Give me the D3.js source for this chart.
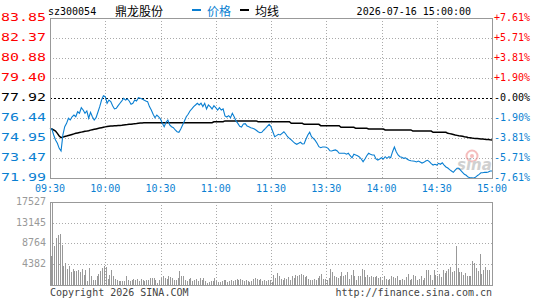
<!DOCTYPE html>
<html>
<head>
<meta charset="utf-8">
<script src="https://cdn.jsdelivr.net/npm/d3@7"></script>
<style>
  body { margin: 0; background: #fff; }
  text { font-family: "DejaVu Sans Mono", monospace; font-size: 10px; }
  .cjk { font-family: "Noto Sans CJK SC", sans-serif; font-size: 12px; }
</style>
</head>
<body>
<div id="chart"></div>
<script>
const stockCode = 'sz300054'
const stockName = '鼎龙股份'
const stamp = '2026-07-16 15:00:00'
const prevClose = 77.92
const timeLabels = ['09:30','10:00','10:30','11:00','11:30','13:30','14:00','14:30','15:00']
const timeMinutes = [0,30,60,90,120,150,180,210,240]
const priceTicks = [83.85,82.37,80.88,79.40,77.92,76.44,74.95,73.47,71.99]
const pctLabels = ['+7.61%','+5.71%','+3.81%','+1.90%','-0.00%','-1.90%','-3.81%','-5.71%','-7.61%']
const volTicks = [17527,13145,8764,4382]

// one value per minute, 09:30..11:30 then 13:00..15:00
const prices = [
  75.67,75.62,75.18,74.81,74.56,74.19,73.99,75.18,75.79,76.04,
  76.42,76.29,76.53,76.66,76.53,76.90,76.79,77.20,77.03,76.79,
  76.96,76.42,76.86,76.53,76.29,76.46,76.86,77.28,77.77,78.09,
  78.02,77.53,77.77,77.65,77.35,77.11,77.16,77.35,77.53,77.70,
  77.90,77.77,77.85,77.70,77.45,77.53,77.77,77.70,77.94,77.90,
  77.85,77.77,77.70,77.65,77.28,77.03,76.71,76.46,76.66,76.53,
  76.36,76.04,75.79,76.12,76.29,75.92,75.79,75.72,75.55,75.42,
  75.38,75.62,75.92,76.22,76.53,76.71,76.96,77.11,77.28,77.40,
  77.53,77.40,77.53,77.28,77.53,77.11,77.40,77.28,77.11,77.35,
  77.20,77.03,77.20,77.03,77.11,76.59,76.51,76.61,76.46,76.79,
  76.53,76.22,76.04,75.82,75.77,75.99,76.02,75.85,75.79,75.72,
  75.67,75.62,75.53,75.42,75.35,75.38,75.53,75.67,75.82,75.97,
  75.79,75.42,75.05,75.13,75.23,75.18,75.30,75.42,75.25,75.05,
  74.93,74.81,74.68,74.56,74.49,74.56,74.64,74.51,74.53,74.88,
  75.18,75.38,75.05,74.93,74.78,74.56,74.31,74.24,74.29,74.29,
  74.27,74.19,74.01,73.99,74.04,74.07,73.99,73.82,73.82,73.82,
  73.82,73.75,73.82,73.64,73.49,73.75,73.70,73.64,73.55,73.40,
  73.20,73.40,73.64,73.82,73.75,73.70,73.70,73.40,73.32,73.40,
  73.49,73.40,73.57,73.45,73.57,73.49,73.94,74.29,73.94,73.70,
  73.57,73.53,73.45,73.49,73.38,73.30,73.27,73.25,73.23,73.18,
  73.25,73.18,73.10,73.15,73.25,73.30,73.20,73.05,72.95,73.01,
  72.95,73.08,73.01,73.12,72.95,72.81,72.73,72.61,72.51,72.41,
  72.58,72.71,72.71,72.56,72.41,72.26,72.19,72.06,72.01,72.01,
  71.99,72.04,72.16,72.26,72.38,72.38,72.41,72.41,72.43,72.51,
  72.51
]
const avgPrices = [
  75.67,75.62,75.55,75.47,75.30,75.10,74.98,75.02,75.07,75.10,
  75.14,75.18,75.22,75.26,75.30,75.33,75.36,75.39,75.42,75.45,
  75.47,75.50,75.54,75.57,75.60,75.63,75.66,75.69,75.72,75.75,
  75.78,75.80,75.82,75.84,75.85,75.86,75.87,75.88,75.89,75.90,
  75.92,75.94,75.95,75.97,75.98,76.00,76.02,76.03,76.05,76.06,
  76.07,76.08,76.09,76.09,76.09,76.09,76.09,76.09,76.09,76.09,
  76.09,76.09,76.09,76.09,76.09,76.09,76.09,76.09,76.09,76.09,
  76.09,76.09,76.09,76.09,76.09,76.09,76.09,76.09,76.09,76.09,
  76.09,76.09,76.09,76.09,76.09,76.09,76.09,76.09,76.09,76.16,
  76.16,76.16,76.16,76.16,76.16,76.22,76.22,76.22,76.22,76.22,
  76.22,76.22,76.22,76.22,76.22,76.22,76.22,76.22,76.22,76.22,
  76.22,76.22,76.22,76.16,76.16,76.16,76.16,76.16,76.16,76.16,
  76.16,76.16,76.16,76.16,76.16,76.16,76.16,76.16,76.16,76.16,
  76.16,76.04,76.04,76.04,76.04,76.04,76.04,76.04,75.97,75.97,
  75.97,75.97,75.97,75.97,75.97,75.97,75.97,75.87,75.87,75.87,
  75.87,75.87,75.87,75.87,75.87,75.87,75.87,75.87,75.75,75.75,
  75.75,75.75,75.75,75.75,75.75,75.75,75.67,75.67,75.67,75.67,
  75.67,75.67,75.67,75.62,75.62,75.62,75.62,75.62,75.62,75.62,
  75.62,75.62,75.55,75.55,75.55,75.55,75.55,75.55,75.55,75.55,
  75.55,75.55,75.55,75.55,75.55,75.55,75.55,75.47,75.47,75.47,
  75.47,75.47,75.47,75.47,75.47,75.47,75.47,75.47,75.38,75.38,
  75.38,75.38,75.38,75.38,75.38,75.38,75.30,75.28,75.25,75.22,
  75.18,75.15,75.12,75.10,75.08,75.05,75.03,75.00,74.98,74.95,
  74.93,74.92,74.91,74.90,74.89,74.88,74.86,74.85,74.84,74.82,
  74.81
]
const volumes = [
  6060,17527,8170,9930,10630,10840,8520,4080,4650,3380,
  4080,2680,3380,2890,2890,3100,2680,3380,2180,3100,
  780,3590,1830,1130,1130,1830,2390,2890,3590,4080,
  3800,1270,2180,3240,1830,1270,1130,920,780,780,
  780,1830,1130,780,1130,1270,1130,1270,780,1270,
  1130,920,1130,990,1410,1480,1480,1130,420,1130,
  1410,1830,1480,1270,1970,1690,1410,1130,1130,1480,
  2890,1830,1830,1130,780,1270,1480,780,1130,1270,
  780,1480,1130,1480,780,420,560,780,780,1480,
  780,700,560,780,990,1130,560,780,990,780,
  1130,1270,990,1270,990,780,1130,780,560,780,
  1270,1480,1270,1130,1270,780,990,780,1130,990,
  560,2180,1480,2530,1970,1270,1130,1480,1270,1690,
  1130,1970,1480,2180,1830,2180,2320,2180,1690,1970,
  1270,1130,1130,1270,1130,1480,1830,2390,1270,1270,
  1130,1480,3380,2680,1830,1690,1480,1970,2680,1830,
  2180,2680,1270,2180,3100,1970,990,1830,1970,3380,
  3100,1690,2180,1690,1830,1690,1690,1830,1480,1690,
  1130,1830,1270,990,1270,1970,1690,1480,1830,990,
  1130,1270,990,1690,2390,1130,1270,2180,1830,1130,
  1270,1970,1130,1480,3240,3100,2180,1130,3100,2180,
  1830,2390,1690,3100,2530,2890,3380,3800,2680,2890,
  8310,3590,2680,2680,2180,2530,1970,1970,1970,5000,
  4650,3590,2890,6500,2390,3240,3800,3240,3240,0,
  0
]

const width = 545, height = 300
const left = 50, right = 492
const pTop = 18, pBottom = 178
const vTop = 202, vBottom = 285
const blue = '#0a7fd2', red = '#ff0000', grey = '#999'

const svg = d3.select('#chart').append('svg')
  .attr('width', width).attr('height', height)
  .style('display', 'block')

const x = d3.scaleLinear().domain([0, 240]).range([left, right])
const y = d3.scaleLinear().domain([priceTicks[8], priceTicks[0]]).range([pBottom, pTop])
const yv = d3.scaleLinear().domain([0, volTicks[0]]).range([vBottom, vTop])

const tickColor = v => v > prevClose ? red : (v < prevClose ? blue : '#000')

// grids
let grid = svg.append('g').attr('shape-rendering', 'crispEdges')
  .attr('stroke', '#aaa').attr('stroke-dasharray', '1,2')
grid.selectAll('.ph').data(priceTicks.slice(1, -1).filter(v => v !== prevClose)).enter()
  .append('line').attr('x1', left).attr('x2', right)
  .attr('y1', d => Math.round(y(d)) + 0.5).attr('y2', d => Math.round(y(d)) + 0.5)
grid.selectAll('.vh').data(volTicks.slice(1)).enter()
  .append('line').attr('x1', left).attr('x2', right)
  .attr('y1', d => Math.round(yv(d)) + 0.5).attr('y2', d => Math.round(yv(d)) + 0.5)
timeMinutes.slice(1, -1).forEach(m => {
  let gx = Math.round(x(m)) + 0.5
  grid.append('line').attr('x1', gx).attr('x2', gx).attr('y1', pTop).attr('y2', pBottom)
  grid.append('line').attr('x1', gx).attr('x2', gx).attr('y1', vTop).attr('y2', vBottom)
})

// sina watermark
let wm = svg.append('g').attr('opacity', 0.55)
wm.append('circle').attr('cx', 472).attr('cy', 156).attr('r', 5.5)
  .attr('fill', 'none').attr('stroke', '#e88').attr('stroke-width', 2)
wm.append('circle').attr('cx', 472).attr('cy', 156).attr('r', 2).attr('fill', '#e88')
wm.append('text').attr('x', 457).attr('y', 170)
  .style('font-family', 'DejaVu Sans').style('font-size', '15px')
  .style('font-weight', 'bold').style('font-style', 'italic')
  .attr('fill', '#aaa').text('sina')

// previous close
let pc = Math.round(y(prevClose)) + 0.5
svg.append('line').attr('x1', left).attr('x2', right).attr('y1', pc).attr('y2', pc)
  .attr('stroke', '#000').attr('stroke-dasharray', '2,2').attr('shape-rendering', 'crispEdges')

// lines
const line = d3.line().x((d, i) => x(i)).y(d => y(d))
svg.append('path').datum(avgPrices).attr('d', line)
  .attr('fill', 'none').attr('stroke', '#000').attr('stroke-width', 1.5)
svg.append('path').datum(prices).attr('d', line)
  .attr('fill', 'none').attr('stroke', blue).attr('stroke-width', 1.1)

// volume bars
svg.append('g').attr('shape-rendering', 'crispEdges').selectAll('rect')
  .data(volumes).enter().append('rect')
  .attr('x', (d, i) => Math.round(x(i) + 0.5))
  .attr('width', 1)
  .attr('y', d => yv(d))
  .attr('height', d => vBottom - yv(d))
  .attr('fill', grey)

// frames
let frame = svg.append('g').attr('fill', 'none').attr('stroke', grey).attr('shape-rendering', 'crispEdges')
frame.append('rect').attr('x', left + 0.5).attr('y', pTop + 0.5).attr('width', right - left).attr('height', pBottom - pTop)
frame.append('rect').attr('x', left + 0.5).attr('y', vTop + 0.5).attr('width', right - left).attr('height', vBottom - vTop)

// price labels (left, stretched) and percent labels (right)
svg.selectAll('.pl').data(priceTicks).enter().append('text')
  .attr('x', 1).attr('y', d => y(d) + 3)
  .attr('textLength', 45).attr('lengthAdjust', 'spacingAndGlyphs')
  .attr('fill', d => tickColor(d)).text(d => d.toFixed(2))
svg.selectAll('.pr').data(priceTicks).enter().append('text')
  .attr('x', 494).attr('y', d => y(d) + 3)
  .attr('fill', d => tickColor(d)).text((d, i) => pctLabels[i])

// volume labels
svg.selectAll('.vl').data(volTicks).enter().append('text')
  .attr('x', 46).attr('y', d => yv(d) + 3).attr('text-anchor', 'end')
  .attr('fill', grey).text(d => d)

// time labels
svg.selectAll('.tl').data(timeMinutes).enter().append('text')
  .attr('x', d => x(d)).attr('y', 192).attr('text-anchor', 'middle')
  .attr('fill', blue).text((d, i) => timeLabels[i])

// header
svg.append('text').attr('x', 48).attr('y', 15).attr('fill', '#000').text(stockCode)
svg.append('text').attr('class', 'cjk').attr('x', 115).attr('y', 15.5).attr('fill', '#000').text(stockName)
svg.append('rect').attr('x', 192).attr('y', 9).attr('width', 9).attr('height', 2).attr('fill', blue)
svg.append('text').attr('class', 'cjk').attr('x', 207).attr('y', 15.5).attr('fill', blue).text('价格')
svg.append('rect').attr('x', 240).attr('y', 9).attr('width', 9).attr('height', 2).attr('fill', '#000')
svg.append('text').attr('class', 'cjk').attr('x', 255).attr('y', 15.5).attr('fill', '#000').text('均线')
svg.append('text').attr('x', 471).attr('y', 15).attr('text-anchor', 'end').attr('fill', '#000').text(stamp)

// footer
svg.append('text').attr('x', 50).attr('y', 296).attr('fill', '#444').text('Copyright 2026 SINA.COM')
svg.append('text').attr('x', 492).attr('y', 296).attr('text-anchor', 'end').attr('fill', '#444').text('http://finance.sina.com.cn')
</script>
</body>
</html>
